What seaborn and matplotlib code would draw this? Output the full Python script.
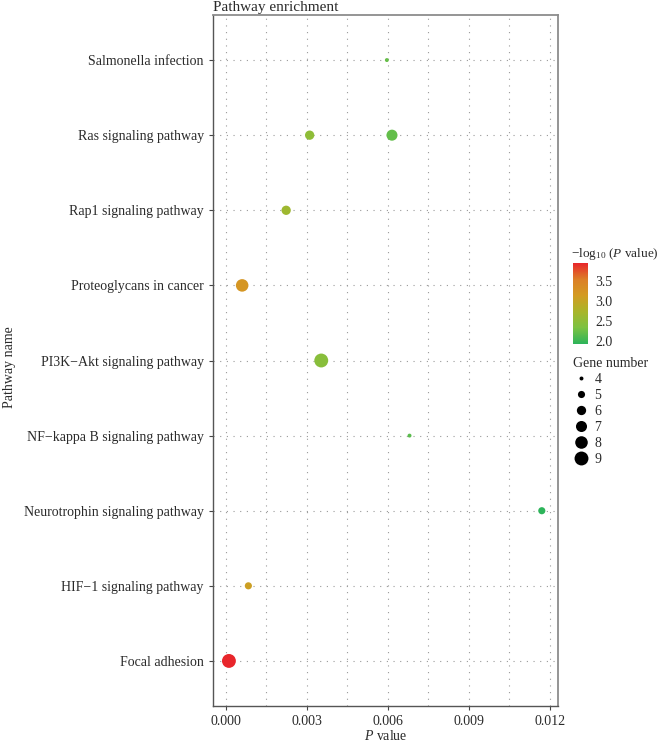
import numpy as np
import pandas as pd
import matplotlib
matplotlib.use('Agg')
import matplotlib.pyplot as plt
from matplotlib.colors import LinearSegmentedColormap, Normalize
from matplotlib.cm import ScalarMappable
from matplotlib.lines import Line2D
import seaborn as sns

# data
pathways = ['Salmonella infection', 'Ras signaling pathway', 'Ras signaling pathway',
            'Rap1 signaling pathway', 'Proteoglycans in cancer',
            'PI3K\u2212Akt signaling pathway', 'NF\u2212kappa B signaling pathway',
            'Neurotrophin signaling pathway', 'HIF\u22121 signaling pathway', 'Focal adhesion']
p_values = [0.00596, 0.0031, 0.00615, 0.00223, 0.0006, 0.00353, 0.0068, 0.0117, 0.00083, 0.00011]
gene_counts = [4, 6, 7, 6, 8, 9, 4, 5, 5, 9]
order = ['Salmonella infection', 'Ras signaling pathway', 'Rap1 signaling pathway',
         'Proteoglycans in cancer', 'PI3K\u2212Akt signaling pathway',
         'NF\u2212kappa B signaling pathway', 'Neurotrophin signaling pathway',
         'HIF\u22121 signaling pathway', 'Focal adhesion']
x_ticks = [0.000, 0.003, 0.006, 0.009, 0.012]
cbar_ticks = [2.0, 2.5, 3.0, 3.5]
size_levels = [4, 5, 6, 7, 8, 9]

df = pd.DataFrame({'pathway': pathways, 'p': p_values, 'genes': gene_counts})
df['logp'] = -np.log10(df['p'])

sns.set_style('white')
plt.rcParams['font.family'] = ['Liberation Serif', 'DejaVu Serif']
plt.rcParams['mathtext.fontset'] = 'custom'
plt.rcParams['mathtext.rm'] = 'Liberation Serif'
plt.rcParams['mathtext.it'] = 'Liberation Serif:italic'

FS = 10
TXT = '#2a2a2a'
cmap = LinearSegmentedColormap.from_list(
    'enrich', ['#2db45a', '#7cc242', '#a9b52a', '#d39b22', '#dc7f27', '#e8262b'])
norm = Normalize(vmin=df['logp'].min(), vmax=df['logp'].max())

SMIN, SMAX = 8, 100
def size_of(g):
    return SMIN + (g - 4) / (9 - 4) * (SMAX - SMIN)

fig = plt.figure(figsize=(6.59, 7.43), dpi=100)
ax = fig.add_axes([213 / 659, 1 - 706 / 743, 345 / 659, 691 / 743])

sns.scatterplot(data=df, x='p', y='pathway', hue='logp', hue_norm=norm, palette=cmap,
                size='genes', sizes=(SMIN, SMAX), size_norm=(4, 9), linewidth=0,
                legend=False, ax=ax, zorder=3)

ax.set_ylim(len(order) - 0.4, -0.6)
ax.set_xlim(-0.00048, 0.0123)
ax.set_xticks(x_ticks)
ax.set_xticklabels([f'{t:.3f}' for t in x_ticks])
ax.set_xticks([0.0015, 0.0045, 0.0075, 0.0105], minor=True)
ax.set_yticks(range(len(order)))
ax.set_yticklabels(order)

grid_kw = dict(color='#9a9a9a', linestyle=(0, (1, 5)), linewidth=0.8)
ax.grid(True, which='major', axis='both', **grid_kw)
ax.grid(True, which='minor', axis='x', **grid_kw)
ax.set_axisbelow(True)

for side in ['left', 'bottom']:
    ax.spines[side].set_color('#555555')
    ax.spines[side].set_linewidth(1.0)
for side in ['top', 'right']:
    ax.spines[side].set_color('#8c8c8c')
    ax.spines[side].set_linewidth(1.3)
ax.tick_params(axis='both', which='major', length=3, width=0.8, color='#444444',
               labelsize=FS, labelcolor=TXT, left=True, bottom=True)
ax.tick_params(axis='x', which='minor', length=0)

ax.set_xlabel('$P$ value', fontsize=FS, labelpad=1, color=TXT)
ax.set_ylabel('Pathway name', fontsize=FS, color=TXT)
ax.yaxis.set_label_coords((16 - 213) / 345, 0.49)
fig.text(213 / 659, 1 - 8 / 743, 'Pathway enrichment', fontsize=11, va='center', ha='left',
         color=TXT)

# colour bar
cax = fig.add_axes([573 / 659, 1 - 344 / 743, 15 / 659, 81 / 743])
cb = fig.colorbar(ScalarMappable(norm=norm, cmap=cmap), cax=cax, ticks=cbar_ticks)
cb.outline.set_visible(False)
cb.ax.set_yticklabels([f'{t:.1f}' for t in cbar_ticks])
cb.ax.tick_params(length=3.5, width=0.8, color='white', direction='in', labelsize=FS,
                  labelcolor=TXT, left=True, right=True, pad=5)
fig.text(571 / 659, 1 - 254 / 743, r'$-\mathrm{log}_{10}$ ($P$ value)', fontsize=9.5,
         va='center', ha='left', color=TXT)

# size legend
handles = [Line2D([], [], marker='o', linestyle='', color='black', markeredgewidth=0,
                  markersize=np.sqrt(size_of(g))) for g in size_levels]
leg = fig.legend(handles, [str(g) for g in size_levels], title='Gene number',
                 loc='upper left', bbox_to_anchor=(570 / 659, 1 - 354 / 743),
                 borderaxespad=0, frameon=False, fontsize=FS, title_fontsize=FS,
                 labelspacing=0.22, handletextpad=0.4, handlelength=1.15, borderpad=0.2)
leg.set_alignment('left')
for t in leg.get_texts():
    t.set_color(TXT)
leg.get_title().set_color(TXT)

fig.savefig('out.png', dpi=100)
